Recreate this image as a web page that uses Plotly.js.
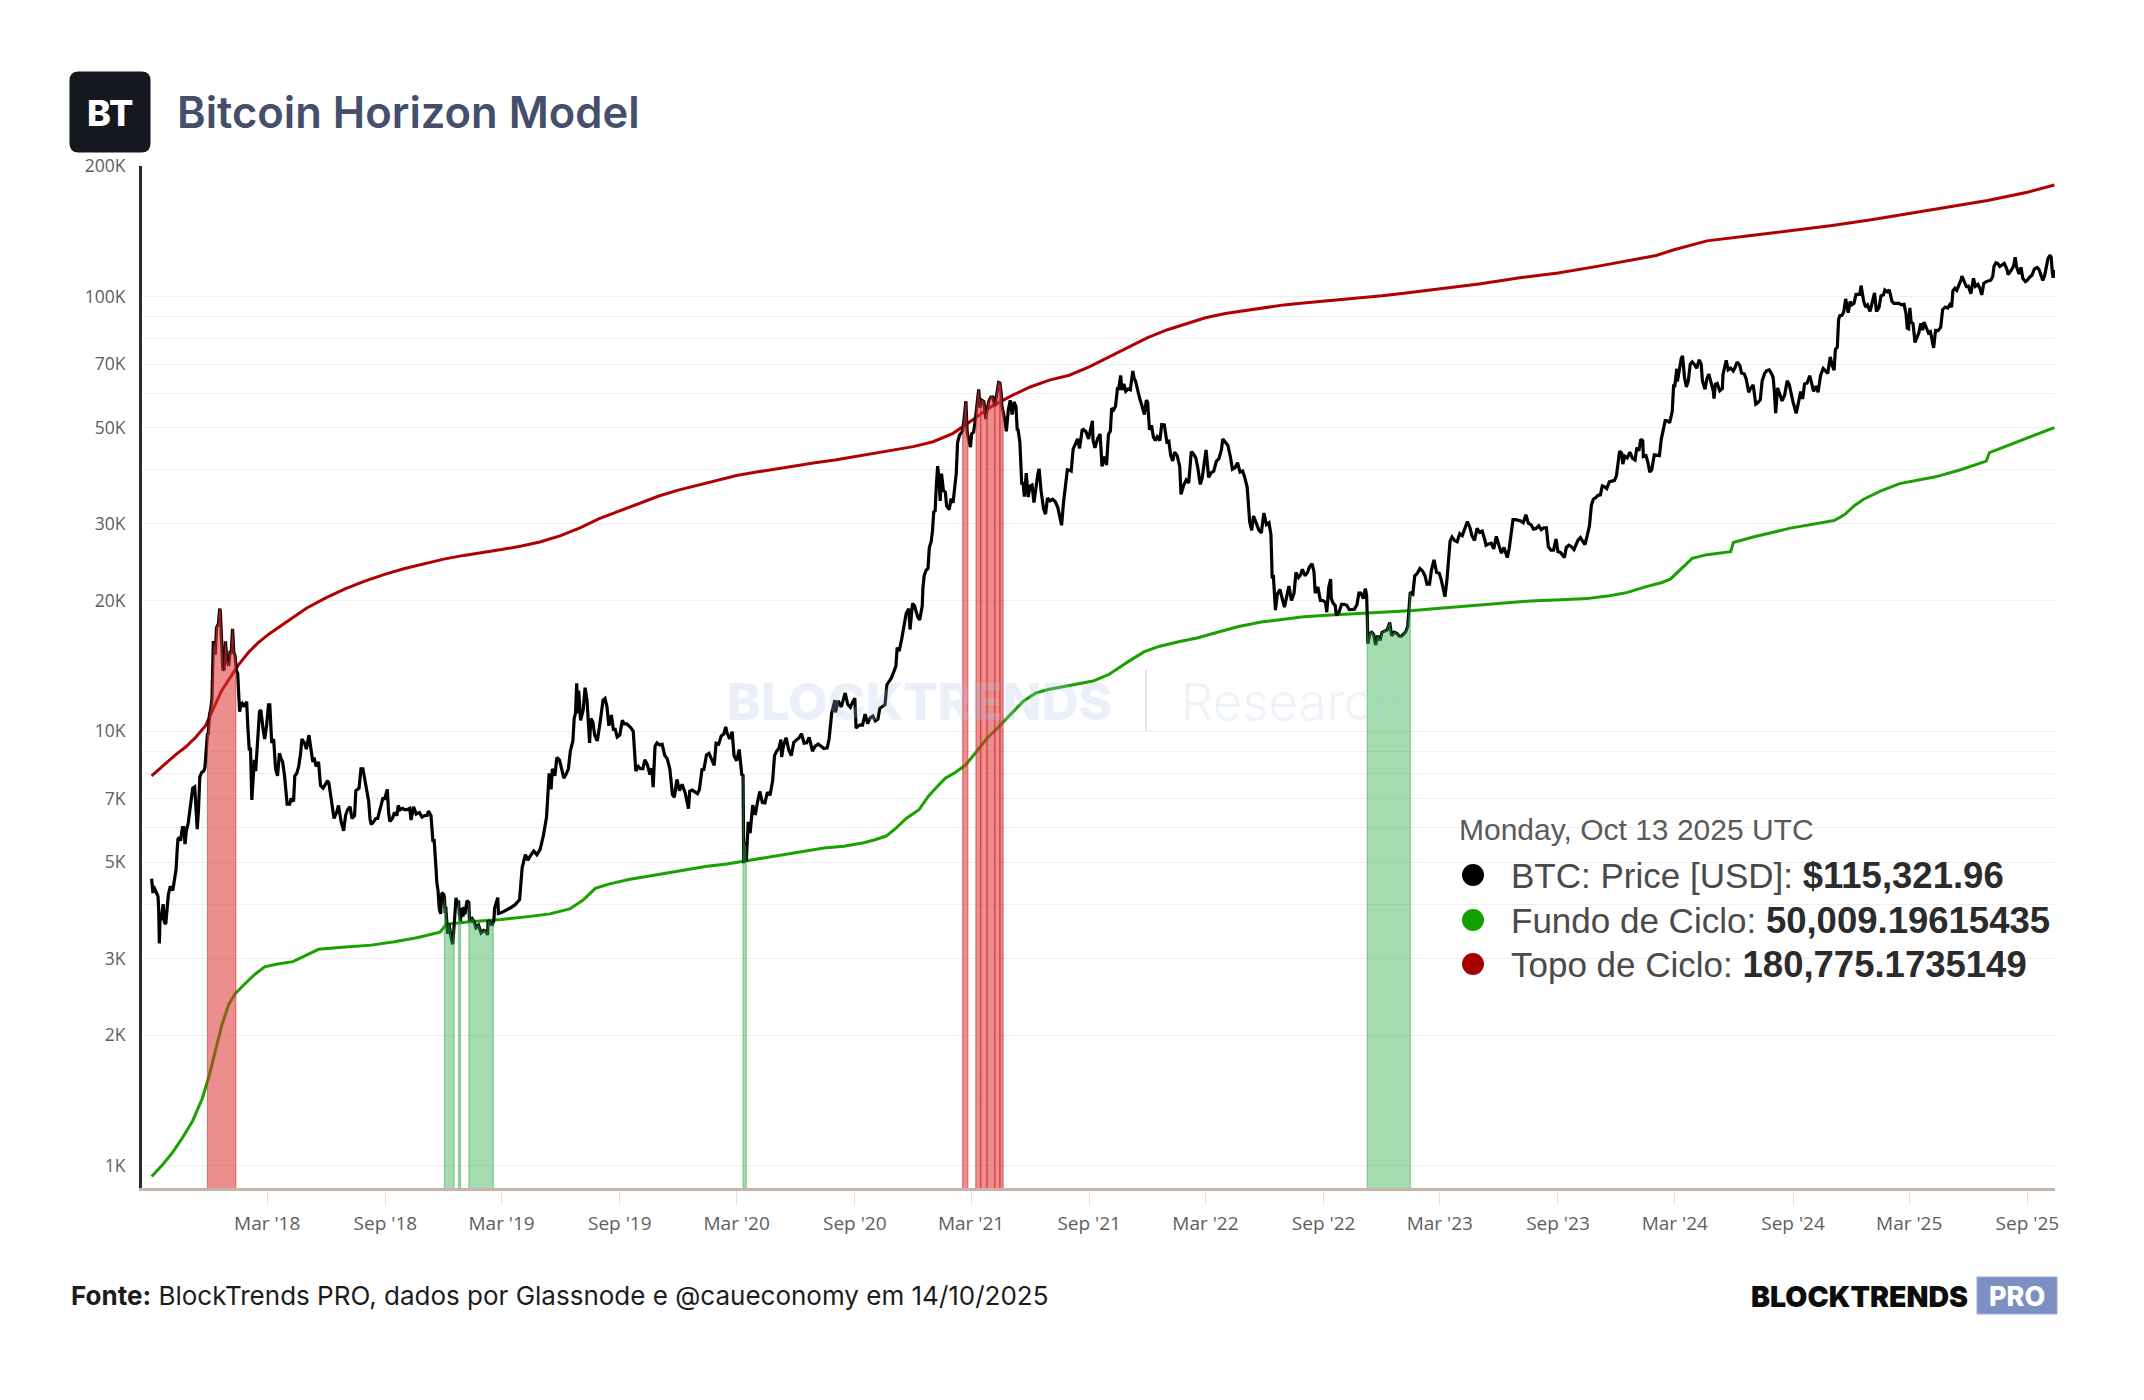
<!DOCTYPE html>
<html>
<head>
<meta charset="utf-8">
<script src="https://cdn.plot.ly/plotly-3.0.1.min.js"></script>
<style>html,body{margin:0;padding:0;background:#fff;} #chart{width:2144px;height:1400px;}</style>
</head>
<body>
<div id="chart"></div>
<script>
// ---------------- DATA ----------------
const btc2017 = [["2017-09-02",4580],["2017-09-04",4240],["2017-09-05",4400],["2017-09-08",4300],["2017-09-10",4230],["2017-09-12",4170],["2017-09-13",3880],["2017-09-14",3250],["2017-09-15",3700],["2017-09-17",3700],["2017-09-20",4000],["2017-09-22",3630],["2017-09-24",3600],["2017-09-28",4200],["2017-10-01",4400],["2017-10-05",4300],["2017-10-08",4600],["2017-10-10",4800],["2017-10-12",5400],["2017-10-13",5650],["2017-10-15",5700],["2017-10-17",5600],["2017-10-20",6000],["2017-10-22",6000],["2017-10-24",5500],["2017-10-26",5900],["2017-10-29",6150],["2017-11-01",6700],["2017-11-03",7100],["2017-11-05",7400],["2017-11-08",7450],["2017-11-10",6600],["2017-11-12",5950],["2017-11-14",6600],["2017-11-16",7850],["2017-11-19",8050],["2017-11-22",8100],["2017-11-24",8250],["2017-11-26",9300],["2017-11-28",9900],["2017-11-29",9800],["2017-12-01",10900],["2017-12-03",11250],["2017-12-05",11900],["2017-12-07",16000],["2017-12-08",16000],["2017-12-10",15000],["2017-12-12",17300],["2017-12-15",17700],["2017-12-17",19150],["2017-12-18",18900],["2017-12-20",16500],["2017-12-22",13800],["2017-12-24",13900],["2017-12-26",16100],["2017-12-28",14600],["2017-12-31",14150]];
const btc2018 = [["2018-01-02",15200],["2018-01-04",15200],["2018-01-06",17200],["2018-01-08",15200],["2018-01-10",14900],["2018-01-12",13800],["2018-01-14",13600],["2018-01-16",11200],["2018-01-17",11100],["2018-01-19",11500],["2018-01-21",11600],["2018-01-24",11400],["2018-01-28",11700],["2018-01-30",10100],["2018-02-01",9100],["2018-02-03",9100],["2018-02-05",6950],["2018-02-07",7750],["2018-02-09",8600],["2018-02-11",8100],["2018-02-14",9500],["2018-02-17",11100],["2018-02-19",11200],["2018-02-21",10400],["2018-02-23",10000],["2018-02-25",9600],["2018-02-28",10300],["2018-03-03",11500],["2018-03-05",11500],["2018-03-08",9400],["2018-03-11",9600],["2018-03-14",8200],["2018-03-17",7900],["2018-03-18",8200],["2018-03-20",8900],["2018-03-22",8700],["2018-03-25",8500],["2018-03-28",7900],["2018-03-31",6900],["2018-04-01",6800],["2018-04-05",6800],["2018-04-07",7000],["2018-04-11",6900],["2018-04-13",7900],["2018-04-16",8000],["2018-04-19",8300],["2018-04-22",8900],["2018-04-24",9600],["2018-04-28",9400],["2018-05-01",9100],["2018-05-05",9800],["2018-05-08",9200],["2018-05-11",8500],["2018-05-13",8700],["2018-05-16",8300],["2018-05-20",8500],["2018-05-23",7500],["2018-05-27",7400],["2018-05-29",7500],["2018-06-03",7700],["2018-06-05",7600],["2018-06-10",6800],["2018-06-13",6300],["2018-06-17",6500],["2018-06-20",6750],["2018-06-24",6200],["2018-06-28",5900],["2018-07-01",6400],["2018-07-04",6600],["2018-07-08",6700],["2018-07-11",6300],["2018-07-15",6400],["2018-07-17",7300],["2018-07-22",7400],["2018-07-25",8200],["2018-07-28",8200],["2018-07-31",7700],["2018-08-03",7400],["2018-08-06",6900],["2018-08-08",6300],["2018-08-10",6100],["2018-08-14",6200],["2018-08-17",6300],["2018-08-20",6300],["2018-08-24",6700],["2018-08-28",7000],["2018-08-31",7000],["2018-09-04",7350],["2018-09-06",6500],["2018-09-08",6200],["2018-09-12",6300],["2018-09-15",6500],["2018-09-19",6400],["2018-09-21",6750],["2018-09-24",6600],["2018-09-28",6650],["2018-10-01",6600],["2018-10-05",6600],["2018-10-09",6650],["2018-10-11",6250],["2018-10-15",6700],["2018-10-19",6450],["2018-10-24",6500],["2018-10-28",6350],["2018-11-01",6400],["2018-11-05",6400],["2018-11-07",6550],["2018-11-11",6400],["2018-11-14",5600],["2018-11-16",5600],["2018-11-19",4800],["2018-11-20",4500],["2018-11-22",4300],["2018-11-24",3900],["2018-11-26",3800],["2018-11-28",4250],["2018-12-01",4210],["2018-12-02",4140],["2018-12-03",3820],["2018-12-04",3950],["2018-12-05",3755],["2018-12-06",3520],["2018-12-07",3420],["2018-12-09",3610],["2018-12-11",3420],["2018-12-13",3310],["2018-12-15",3236],["2018-12-17",3545],["2018-12-18",3700],["2018-12-20",4134],["2018-12-22",4014],["2018-12-24",4078],["2018-12-25",3815],["2018-12-27",3654],["2018-12-28",3923],["2018-12-31",3743]];
const btc2019 = [["2019-01-01",3943],["2019-01-03",3790],["2019-01-06",4076],["2019-01-09",4036],["2019-01-10",3655],["2019-01-14",3706],["2019-01-17",3650],["2019-01-20",3535],["2019-01-24",3580],["2019-01-28",3437],["2019-02-01",3480],["2019-02-05",3460],["2019-02-07",3399],["2019-02-08",3666],["2019-02-12",3630],["2019-02-14",3571],["2019-02-17",3671],["2019-02-18",3912],["2019-02-23",4142],["2019-02-24",3810],["2019-03-01",3826],["2019-03-08",3870],["2019-03-15",3925],["2019-03-22",3990],["2019-03-29",4100],["2019-04-02",4858],["2019-04-07",5200],["2019-04-11",5050],["2019-04-14",5150],["2019-04-20",5300],["2019-04-25",5200],["2019-04-30",5350],["2019-05-05",5750],["2019-05-10",6350],["2019-05-12",7000],["2019-05-14",8000],["2019-05-17",7350],["2019-05-19",8200],["2019-05-23",7900],["2019-05-26",8700],["2019-05-30",8600],["2019-06-03",8100],["2019-06-06",7800],["2019-06-10",8000],["2019-06-13",8200],["2019-06-16",9000],["2019-06-20",9500],["2019-06-22",10700],["2019-06-24",11000],["2019-06-26",12900],["2019-06-27",11000],["2019-06-29",12400],["2019-07-02",10600],["2019-07-06",11200],["2019-07-09",12600],["2019-07-12",11800],["2019-07-14",10200],["2019-07-16",9400],["2019-07-18",10700],["2019-07-21",10500],["2019-07-24",9800],["2019-07-28",9500],["2019-08-01",10400],["2019-08-06",11800],["2019-08-09",11900],["2019-08-12",11400],["2019-08-15",10300],["2019-08-19",10900],["2019-08-22",10100],["2019-08-25",10100],["2019-08-28",9700],["2019-09-01",9800],["2019-09-05",10600],["2019-09-08",10400],["2019-09-12",10400],["2019-09-18",10200],["2019-09-22",10000],["2019-09-24",8600],["2019-09-26",8100],["2019-09-30",8300],["2019-10-03",8200],["2019-10-07",8200],["2019-10-10",8600],["2019-10-14",8370],["2019-10-18",7950],["2019-10-21",8220],["2019-10-23",7440],["2019-10-25",8660],["2019-10-26",9250],["2019-10-29",9400],["2019-11-02",9300],["2019-11-06",9340],["2019-11-10",8800],["2019-11-14",8640],["2019-11-18",8180],["2019-11-22",7150],["2019-11-25",7050],["2019-11-29",7750],["2019-12-03",7300],["2019-12-07",7550],["2019-12-12",7200],["2019-12-17",6640],["2019-12-19",7280],["2019-12-23",7320],["2019-12-27",7250],["2019-12-31",7190]];
const btc2020 = [["2020-01-03",7340],["2020-01-07",8160],["2020-01-10",8170],["2020-01-14",8820],["2020-01-18",8900],["2020-01-22",8660],["2020-01-26",8350],["2020-01-29",9390],["2020-02-02",9340],["2020-02-06",9750],["2020-02-10",9850],["2020-02-13",10240],["2020-02-15",9920],["2020-02-19",9600],["2020-02-23",9980],["2020-02-26",8780],["2020-03-01",8560],["2020-03-05",9080],["2020-03-08",8040],["2020-03-09",7940],["2020-03-11",7910],["2020-03-12",4970],["2020-03-13",5560],["2020-03-15",5390],["2020-03-16",5010],["2020-03-19",6190],["2020-03-22",5830],["2020-03-26",6760],["2020-03-30",6420],["2020-04-02",6810],["2020-04-06",7270],["2020-04-10",6860],["2020-04-14",6840],["2020-04-18",7240],["2020-04-22",7130],["2020-04-26",7680],["2020-04-29",8790],["2020-05-02",8980],["2020-05-06",9160],["2020-05-09",9570],["2020-05-10",8730],["2020-05-13",9270],["2020-05-17",9670],["2020-05-21",9080],["2020-05-25",8790],["2020-05-29",9430],["2020-06-02",9530],["2020-06-06",9650],["2020-06-10",9870],["2020-06-14",9390],["2020-06-18",9410],["2020-06-22",9680],["2020-06-27",9000],["2020-07-01",9230],["2020-07-06",9350],["2020-07-10",9230],["2020-07-15",9130],["2020-07-20",9160],["2020-07-23",9600],["2020-07-27",11000],["2020-08-01",11800],["2020-08-02",11050],["2020-08-06",11750],["2020-08-11",11380],["2020-08-17",12250],["2020-08-21",11540],["2020-08-25",11360],["2020-08-29",11700],["2020-09-01",11920],["2020-09-03",10170],["2020-09-05",10250],["2020-09-09",10340],["2020-09-13",10330],["2020-09-17",10950],["2020-09-21",10420],["2020-09-25",10740],["2020-09-29",10840],["2020-10-03",10570],["2020-10-07",10670],["2020-10-10",11300],["2020-10-14",11430],["2020-10-18",11500],["2020-10-21",12800],["2020-10-24",13030],["2020-10-28",13270],["2020-11-01",13740],["2020-11-04",14130],["2020-11-06",15580],["2020-11-09",15300],["2020-11-13",16300],["2020-11-17",17650],["2020-11-20",18660],["2020-11-24",19150],["2020-11-26",17150],["2020-11-30",19690],["2020-12-03",19450],["2020-12-08",18320],["2020-12-11",18040],["2020-12-15",19430],["2020-12-16",21310],["2020-12-18",22800],["2020-12-21",23480],["2020-12-24",23700],["2020-12-26",26440],["2020-12-29",27360],["2020-12-31",28950]];
const btc2021 = [["2021-01-02",32130],["2021-01-04",31970],["2021-01-06",36770],["2021-01-08",40780],["2021-01-10",38350],["2021-01-12",33920],["2021-01-14",39190],["2021-01-17",35830],["2021-01-20",35510],["2021-01-22",33000],["2021-01-26",32370],["2021-01-29",34320],["2021-02-01",33540],["2021-02-04",36900],["2021-02-06",39270],["2021-02-08",46200],["2021-02-11",48000],["2021-02-14",48700],["2021-02-16",49200],["2021-02-18",52150],["2021-02-20",55900],["2021-02-21",57500],["2021-02-23",48800],["2021-02-26",46300],["2021-02-28",45100],["2021-03-02",48400],["2021-03-05",48800],["2021-03-07",51200],["2021-03-09",54900],["2021-03-11",57300],["2021-03-13",61200],["2021-03-15",55600],["2021-03-18",57800],["2021-03-21",57400],["2021-03-24",52300],["2021-03-26",55000],["2021-03-29",57700],["2021-04-01",58800],["2021-04-04",58800],["2021-04-07",56000],["2021-04-10",59900],["2021-04-13",63500],["2021-04-15",63300],["2021-04-17",60000],["2021-04-18",56200],["2021-04-21",53800],["2021-04-23",51700],["2021-04-25",49000],["2021-04-28",54800],["2021-05-01",57800],["2021-05-04",53600],["2021-05-07",57300],["2021-05-10",55800],["2021-05-12",49200],["2021-05-13",49700],["2021-05-16",46400],["2021-05-19",37000],["2021-05-21",37400],["2021-05-23",34700],["2021-05-26",39300],["2021-05-29",34600],["2021-06-01",36700],["2021-06-04",36900],["2021-06-07",33600],["2021-06-10",36700],["2021-06-13",39100],["2021-06-15",40200],["2021-06-18",35800],["2021-06-22",32500],["2021-06-25",31600],["2021-06-28",34400],["2021-07-02",33900],["2021-07-06",34200],["2021-07-10",33800],["2021-07-14",32800],["2021-07-17",31500],["2021-07-20",29800],["2021-07-23",33600],["2021-07-26",37300],["2021-07-29",40000],["2021-08-01",39900],["2021-08-04",39700],["2021-08-07",44600],["2021-08-10",45600],["2021-08-14",47100],["2021-08-17",44800],["2021-08-21",49300],["2021-08-23",49500],["2021-08-27",48900],["2021-08-31",47100],["2021-09-03",50000],["2021-09-06",51800],["2021-09-07",46800],["2021-09-10",44900],["2021-09-14",47100],["2021-09-18",48300],["2021-09-21",40700],["2021-09-24",42900],["2021-09-28",41000],["2021-10-01",48200],["2021-10-04",49100],["2021-10-06",55400],["2021-10-09",54900],["2021-10-12",56000],["2021-10-15",61500],["2021-10-17",61500],["2021-10-20",65900],["2021-10-22",61000],["2021-10-25",63000],["2021-10-28",60600],["2021-11-01",61400],["2021-11-04",61100],["2021-11-08",67500],["2021-11-10",64900],["2021-11-12",64100],["2021-11-16",60100],["2021-11-19",58100],["2021-11-22",56300],["2021-11-26",53600],["2021-11-29",57800],["2021-12-01",57200],["2021-12-04",49400],["2021-12-07",50600],["2021-12-10",47600],["2021-12-13",46700],["2021-12-16",47600],["2021-12-20",46700],["2021-12-23",50800],["2021-12-27",50700],["2021-12-31",46300]];
const btc2022 = [["2022-01-03",46500],["2022-01-06",43100],["2022-01-09",41900],["2022-01-12",43900],["2022-01-16",43100],["2022-01-20",40700],["2022-01-22",35100],["2022-01-26",36800],["2022-01-30",37900],["2022-02-03",37300],["2022-02-07",44000],["2022-02-10",43600],["2022-02-14",42600],["2022-02-17",40500],["2022-02-21",37000],["2022-02-24",38300],["2022-02-28",43200],["2022-03-02",44400],["2022-03-06",38400],["2022-03-10",39400],["2022-03-14",39700],["2022-03-18",41800],["2022-03-22",42400],["2022-03-26",44500],["2022-03-28",47100],["2022-04-01",46300],["2022-04-05",45500],["2022-04-09",42800],["2022-04-12",40100],["2022-04-16",40400],["2022-04-20",41500],["2022-04-24",39500],["2022-04-28",39700],["2022-05-01",38500],["2022-05-05",36500],["2022-05-09",30300],["2022-05-12",29000],["2022-05-15",31300],["2022-05-19",30300],["2022-05-23",29100],["2022-05-27",28600],["2022-05-31",31800],["2022-06-04",29900],["2022-06-08",30200],["2022-06-11",28400],["2022-06-13",22500],["2022-06-15",22600],["2022-06-18",19000],["2022-06-21",20700],["2022-06-25",21200],["2022-06-29",20100],["2022-07-02",19300],["2022-07-06",20550],["2022-07-09",21600],["2022-07-13",20000],["2022-07-17",20800],["2022-07-20",23200],["2022-07-24",22600],["2022-07-27",22900],["2022-07-30",23600],["2022-08-03",22800],["2022-08-07",23200],["2022-08-10",23900],["2022-08-14",24300],["2022-08-17",23300],["2022-08-19",20800],["2022-08-23",21500],["2022-08-27",20000],["2022-08-31",20000],["2022-09-04",19800],["2022-09-06",18800],["2022-09-09",21400],["2022-09-12",22400],["2022-09-13",20200],["2022-09-16",19700],["2022-09-19",19500],["2022-09-21",18500],["2022-09-25",18800],["2022-09-29",19600],["2022-10-03",19600],["2022-10-07",19500],["2022-10-11",19050],["2022-10-15",19070],["2022-10-19",19100],["2022-10-23",19570],["2022-10-26",20800],["2022-10-29",20800],["2022-11-02",20200],["2022-11-05",21300],["2022-11-07",20600],["2022-11-08",18500],["2022-11-09",15900],["2022-11-12",16800],["2022-11-15",16900],["2022-11-18",16700],["2022-11-21",15800],["2022-11-24",16600],["2022-11-28",16200],["2022-12-01",16900],["2022-12-05",16970],["2022-12-09",17100],["2022-12-13",17800],["2022-12-16",16600],["2022-12-20",16900],["2022-12-24",16800],["2022-12-28",16550],["2022-12-31",16550]];
const btc2023 = [["2023-01-03",16700],["2023-01-07",16950],["2023-01-10",17450],["2023-01-12",18850],["2023-01-13",19900],["2023-01-14",20900],["2023-01-18",20700],["2023-01-21",22800],["2023-01-25",23100],["2023-01-29",23700],["2023-02-02",23400],["2023-02-06",22800],["2023-02-09",21800],["2023-02-13",21800],["2023-02-16",23500],["2023-02-20",24800],["2023-02-24",23200],["2023-02-28",23100],["2023-03-03",22400],["2023-03-09",20400],["2023-03-12",22200],["2023-03-14",24700],["2023-03-17",27400],["2023-03-20",28000],["2023-03-24",27500],["2023-03-28",27300],["2023-04-01",28500],["2023-04-05",28200],["2023-04-10",29700],["2023-04-13",30400],["2023-04-17",29400],["2023-04-20",28200],["2023-04-24",27500],["2023-04-28",29300],["2023-05-02",28700],["2023-05-06",28900],["2023-05-10",27600],["2023-05-12",26800],["2023-05-16",27000],["2023-05-20",27100],["2023-05-24",26300],["2023-05-28",28100],["2023-06-01",26800],["2023-06-05",25700],["2023-06-09",26500],["2023-06-14",25100],["2023-06-17",26300],["2023-06-20",28300],["2023-06-23",30700],["2023-06-27",30700],["2023-07-01",30600],["2023-07-05",30500],["2023-07-09",30200],["2023-07-13",31500],["2023-07-17",30100],["2023-07-21",29900],["2023-07-25",29200],["2023-07-29",29300],["2023-08-02",29700],["2023-08-06",29100],["2023-08-10",29400],["2023-08-14",29400],["2023-08-17",26600],["2023-08-21",26100],["2023-08-25",26100],["2023-08-29",27700],["2023-09-01",25900],["2023-09-05",25800],["2023-09-11",25100],["2023-09-14",26500],["2023-09-18",26800],["2023-09-22",26600],["2023-09-26",26200],["2023-09-30",27000],["2023-10-02",27500],["2023-10-06",27900],["2023-10-10",27400],["2023-10-13",26900],["2023-10-17",28400],["2023-10-20",29700],["2023-10-23",33100],["2023-10-26",34200],["2023-10-30",34500],["2023-11-02",34900],["2023-11-06",35000],["2023-11-09",36700],["2023-11-13",36500],["2023-11-16",36200],["2023-11-20",37500],["2023-11-24",37700],["2023-11-28",37800],["2023-12-01",38700],["2023-12-04",41900],["2023-12-06",44100],["2023-12-09",43700],["2023-12-11",41200],["2023-12-14",43000],["2023-12-18",42600],["2023-12-22",43900],["2023-12-26",42500],["2023-12-30",42100]];
const btc2024 = [["2024-01-02",45000],["2024-01-05",44200],["2024-01-08",47000],["2024-01-11",46600],["2024-01-12",42900],["2024-01-16",43100],["2024-01-19",41600],["2024-01-22",39500],["2024-01-25",40000],["2024-01-29",43300],["2024-02-02",43200],["2024-02-06",43100],["2024-02-09",47100],["2024-02-12",49900],["2024-02-15",51900],["2024-02-19",51800],["2024-02-22",51300],["2024-02-26",54500],["2024-02-28",62400],["2024-03-01",62400],["2024-03-04",68300],["2024-03-05",63800],["2024-03-08",68300],["2024-03-11",72100],["2024-03-13",73100],["2024-03-16",65300],["2024-03-19",62000],["2024-03-22",64000],["2024-03-25",70000],["2024-03-28",70800],["2024-04-01",69700],["2024-04-04",68500],["2024-04-08",71600],["2024-04-11",70000],["2024-04-13",64000],["2024-04-17",61300],["2024-04-20",64900],["2024-04-23",66400],["2024-04-26",63800],["2024-04-30",60600],["2024-05-01",58300],["2024-05-03",62900],["2024-05-06",63200],["2024-05-10",60800],["2024-05-14",61500],["2024-05-15",66300],["2024-05-20",71400],["2024-05-23",67900],["2024-05-27",68500],["2024-05-31",67500],["2024-06-03",68800],["2024-06-06",70800],["2024-06-10",69600],["2024-06-13",66700],["2024-06-17",66500],["2024-06-20",64800],["2024-06-24",60300],["2024-06-27",61600],["2024-07-01",62700],["2024-07-04",57000],["2024-07-05",56600],["2024-07-08",57000],["2024-07-12",57900],["2024-07-15",64100],["2024-07-19",66700],["2024-07-22",67600],["2024-07-26",67900],["2024-07-29",66800],["2024-08-01",65300],["2024-08-03",60600],["2024-08-05",54000],["2024-08-08",61700],["2024-08-12",59000],["2024-08-15",57600],["2024-08-19",59500],["2024-08-23",64100],["2024-08-26",62900],["2024-08-29",59400],["2024-09-01",57300],["2024-09-06",53900],["2024-09-09",57000],["2024-09-13",60500],["2024-09-16",58200],["2024-09-19",63000],["2024-09-23",63300],["2024-09-27",65800],["2024-09-30",63300],["2024-10-03",60600],["2024-10-07",62300],["2024-10-10",60300],["2024-10-14",66000],["2024-10-18",68400],["2024-10-22",67400],["2024-10-25",66600],["2024-10-29",72700],["2024-11-01",69500],["2024-11-04",67800],["2024-11-06",75600],["2024-11-09",76600],["2024-11-11",88700],["2024-11-13",90500],["2024-11-16",90600],["2024-11-19",92300],["2024-11-22",98900],["2024-11-26",91900],["2024-11-29",97500],["2024-12-02",95900],["2024-12-05",96600],["2024-12-08",101200],["2024-12-11",101100],["2024-12-14",101400],["2024-12-16",106100],["2024-12-18",100200],["2024-12-20",97800],["2024-12-23",94700],["2024-12-26",95800],["2024-12-30",92600]];
const btc2025 = [["2025-01-02",96900],["2025-01-06",102100],["2025-01-09",92500],["2025-01-13",94500],["2025-01-16",100500],["2025-01-20",101100],["2025-01-22",103700],["2025-01-26",102600],["2025-01-29",103700],["2025-02-02",97700],["2025-02-05",96600],["2025-02-09",96500],["2025-02-13",96600],["2025-02-17",95800],["2025-02-21",96100],["2025-02-24",91500],["2025-02-26",84700],["2025-02-28",84400],["2025-03-02",94300],["2025-03-04",87300],["2025-03-07",86700],["2025-03-10",78500],["2025-03-13",80900],["2025-03-16",82600],["2025-03-19",86900],["2025-03-22",83800],["2025-03-24",87500],["2025-03-28",84400],["2025-03-31",82500],["2025-04-03",83100],["2025-04-06",78300],["2025-04-08",76300],["2025-04-11",83700],["2025-04-15",83600],["2025-04-19",85100],["2025-04-22",93400],["2025-04-26",94700],["2025-04-30",94200],["2025-05-03",95900],["2025-05-06",94700],["2025-05-08",103200],["2025-05-11",104600],["2025-05-14",103500],["2025-05-18",106500],["2025-05-21",109700],["2025-05-22",111600],["2025-05-25",109000],["2025-05-29",105600],["2025-06-01",105800],["2025-06-05",101600],["2025-06-09",110300],["2025-06-12",105700],["2025-06-16",106800],["2025-06-19",104600],["2025-06-22",101000],["2025-06-25",107300],["2025-06-29",108400],["2025-07-02",108900],["2025-07-06",109200],["2025-07-09",111300],["2025-07-11",117500],["2025-07-14",119800],["2025-07-17",119300],["2025-07-20",117400],["2025-07-24",118300],["2025-07-27",119400],["2025-07-31",115800],["2025-08-02",112500],["2025-08-05",114100],["2025-08-09",116500],["2025-08-11",118700],["2025-08-13",123300],["2025-08-15",117400],["2025-08-19",112900],["2025-08-22",116900],["2025-08-25",110100],["2025-08-29",108400],["2025-09-01",109200],["2025-09-04",110700],["2025-09-08",112100],["2025-09-12",116000],["2025-09-16",116800],["2025-09-19",115700],["2025-09-22",112700],["2025-09-25",109000],["2025-09-28",112200],["2025-10-01",118600],["2025-10-03",122300],["2025-10-06",124700],["2025-10-08",123300],["2025-10-10",113200],["2025-10-11",110600],["2025-10-13",115321.96]];

// Topo de Ciclo (red)
const topoCiclo = [["2017-09-02",7900],["2017-09-20",8350],["2017-10-10",8850],["2017-10-25",9200],["2017-11-10",9700],["2017-11-25",10300],["2017-12-10",11500],["2017-12-20",12400],["2018-01-01",13200],["2018-01-15",14200],["2018-01-31",15200],["2018-02-15",16000],["2018-03-05",16800],["2018-04-01",17900],["2018-05-01",19200],["2018-06-01",20300],["2018-07-01",21300],["2018-08-01",22200],["2018-09-01",23000],["2018-10-01",23700],["2018-11-01",24300],["2018-12-01",24900],["2019-01-01",25400],["2019-02-01",25800],["2019-03-01",26200],["2019-04-01",26700],["2019-05-01",27300],["2019-06-01",28200],["2019-07-01",29400],["2019-08-01",30900],["2019-09-01",32200],["2019-10-01",33500],["2019-11-01",34800],["2019-12-01",35900],["2020-01-01",36900],["2020-02-01",37800],["2020-03-01",38800],["2020-04-01",39500],["2020-05-01",40200],["2020-06-01",40900],["2020-07-01",41500],["2020-08-01",42100],["2020-09-01",42900],["2020-10-01",43700],["2020-11-01",44500],["2020-12-01",45200],["2021-01-01",46400],["2021-02-01",48500],["2021-03-01",51800],["2021-04-01",55800],["2021-05-01",59000],["2021-06-01",62000],["2021-07-01",64300],["2021-08-01",66000],["2021-09-01",69000],["2021-10-01",72500],["2021-11-01",76500],["2021-12-01",80500],["2022-01-01",84000],["2022-02-01",87000],["2022-03-01",89500],["2022-04-01",91500],["2022-05-01",93000],["2022-06-01",94500],["2022-07-01",95800],["2022-08-01",96800],["2022-09-01",97700],["2022-10-01",98600],["2022-11-01",99500],["2022-12-01",100500],["2023-01-01",101800],["2023-03-01",104300],["2023-05-01",107000],["2023-07-01",110500],["2023-09-01",113500],["2023-11-01",117500],["2024-01-01",122000],["2024-02-01",124500],["2024-03-01",128500],["2024-04-01",132500],["2024-04-20",134500],["2024-07-01",138500],["2024-09-01",142000],["2024-11-01",146000],["2025-01-01",150500],["2025-03-01",155500],["2025-05-01",160500],["2025-07-01",166500],["2025-09-01",174000],["2025-10-13",180775.17]];

// Fundo de Ciclo (green)
const fundoCiclo = [["2017-09-02",945],["2017-09-20",1010],["2017-10-05",1075],["2017-10-20",1160],["2017-11-05",1270],["2017-11-20",1430],["2017-12-01",1620],["2017-12-10",1820],["2017-12-20",2100],["2017-12-31",2350],["2018-01-10",2490],["2018-01-25",2620],["2018-02-10",2760],["2018-02-25",2870],["2018-03-15",2910],["2018-04-10",2950],["2018-05-01",3060],["2018-05-20",3150],["2018-07-01",3190],["2018-08-10",3220],["2018-09-15",3280],["2018-10-20",3350],["2018-11-25",3450],["2018-12-05",3600],["2019-01-15",3650],["2019-03-01",3690],["2019-04-15",3750],["2019-05-15",3800],["2019-06-15",3900],["2019-07-05",4080],["2019-07-25",4350],["2019-08-15",4450],["2019-09-15",4560],["2019-10-15",4640],["2019-11-15",4730],["2019-12-15",4820],["2020-01-15",4890],["2020-02-15",4950],["2020-03-15",5030],["2020-04-15",5120],["2020-05-15",5220],["2020-06-15",5300],["2020-07-15",5390],["2020-08-15",5440],["2020-09-15",5540],["2020-10-01",5620],["2020-10-20",5740],["2020-11-05",6000],["2020-11-20",6300],["2020-12-10",6600],["2020-12-25",7100],["2021-01-07",7450],["2021-01-20",7800],["2021-02-05",8050],["2021-02-20",8350],["2021-03-10",9000],["2021-03-25",9600],["2021-04-12",10200],["2021-05-01",10900],["2021-05-22",11750],["2021-06-10",12250],["2021-07-01",12500],["2021-07-20",12650],["2021-08-10",12800],["2021-09-07",13050],["2021-10-01",13500],["2021-10-17",14000],["2021-11-05",14600],["2021-11-26",15250],["2021-12-20",15700],["2022-01-20",16100],["2022-02-16",16400],["2022-03-20",16900],["2022-04-20",17400],["2022-05-27",17850],["2022-07-01",18150],["2022-08-01",18350],["2022-09-06",18500],["2022-10-15",18650],["2022-11-15",18750],["2022-12-15",18850],["2023-01-19",18960],["2023-03-01",19200],["2023-05-01",19500],["2023-07-20",19950],["2023-09-15",20100],["2023-10-16",20200],["2023-11-20",20500],["2023-12-17",20850],["2024-01-15",21500],["2024-02-10",22000],["2024-02-23",22400],["2024-03-10",23600],["2024-03-28",25000],["2024-04-20",25500],["2024-05-27",25900],["2024-05-31",27200],["2024-07-01",28000],["2024-08-28",29350],["2024-10-01",29900],["2024-11-04",30560],["2024-11-20",31500],["2024-12-05",33000],["2024-12-20",34200],["2025-01-15",35700],["2025-02-14",37150],["2025-03-15",37800],["2025-04-11",38520],["2025-05-20",40000],["2025-06-29",41870],["2025-07-04",43800],["2025-08-01",45400],["2025-09-01",47300],["2025-10-13",50009.2]];

// Periods where price is above the top (red) or below the bottom (green)
const redBands = [["2017-11-28","2018-01-11"],["2021-02-16","2021-02-24"],["2021-03-08","2021-03-16"],["2021-03-16","2021-03-26"],["2021-03-26","2021-04-07"],["2021-04-07","2021-04-15"],["2021-04-15","2021-04-20"]];
const greenBands = [["2018-12-02","2018-12-17"],["2018-12-24","2018-12-27"],["2019-01-09","2019-02-16"],["2020-03-11","2020-03-16"],["2022-11-08","2023-01-14"]];

const xTickDates = ["2018-03-01","2018-09-01","2019-03-01","2019-09-01","2020-03-01","2020-09-01","2021-03-01","2021-09-01","2022-03-01","2022-09-01","2023-03-01","2023-09-01","2024-03-01","2024-09-01","2025-03-01","2025-09-01"];
const xTickText = ["Mar '18","Sep '18","Mar '19","Sep '19","Mar '20","Sep '20","Mar '21","Sep '21","Mar '22","Sep '22","Mar '23","Sep '23","Mar '24","Sep '24","Mar '25","Sep '25"];
const yTickVals = [1000,2000,3000,4000,5000,6000,7000,8000,9000,10000,20000,30000,40000,50000,60000,70000,80000,90000,100000,200000];
const yTickText = ["1K","2K","3K","","5K","","7K","","","10K","20K","30K","","50K","","70K","","","100K","200K"];

const legendDate = "Monday, Oct 13 2025 UTC";
const legendLabels = ["BTC: Price [USD]: ", "Fundo de Ciclo: ", "Topo de Ciclo: "];
const legendValues = ["$115,321.96", "50,009.19615435", "180,775.1735149"];

// ---------------- BUILD ----------------
const L = 142, R = 2055, T = 166, B = 1188;
const px = x => (x - L) / (R - L);
const py = y => (B - y) / (B - T);

const price = [].concat(btc2017, btc2018, btc2019, btc2020, btc2021, btc2022, btc2023, btc2024, btc2025);
const priceX = price.map(d => d[0]);
const priceY = price.map(d => d[1]);

const ms = d => Date.parse(d + "T00:00:00Z");
const pMs = priceX.map(ms);
function priceAt(t) {
  if (t <= pMs[0]) return priceY[0];
  for (let i = 0; i < pMs.length - 1; i++) {
    if (t >= pMs[i] && t <= pMs[i + 1]) {
      const f = (t - pMs[i]) / (pMs[i + 1] - pMs[i]);
      return Math.exp(Math.log(priceY[i]) * (1 - f) + Math.log(priceY[i + 1]) * f);
    }
  }
  return priceY[priceY.length - 1];
}
const FLOOR = 100;
function band(s, e, fill, edge) {
  const a = ms(s), b = ms(e);
  const xs = [a, a], ys = [FLOOR, priceAt(a)];
  pMs.forEach((t, i) => { if (t > a && t < b) { xs.push(t); ys.push(priceY[i]); } });
  xs.push(b, b, a); ys.push(priceAt(b), FLOOR, FLOOR);
  return { type: "scatter", mode: "lines", x: xs, y: ys, fill: "toself", fillcolor: fill,
           line: { color: edge, width: 1.2 }, hoverinfo: "skip", showlegend: false };
}

const traces = [
  { type: "scatter", mode: "lines", name: "Topo de Ciclo", x: topoCiclo.map(d => d[0]), y: topoCiclo.map(d => d[1]),
    line: { color: "#b00000", width: 3 } },
  { type: "scatter", mode: "lines", name: "Fundo de Ciclo", x: fundoCiclo.map(d => d[0]), y: fundoCiclo.map(d => d[1]),
    line: { color: "#1aa000", width: 3 } },
  { type: "scatter", mode: "lines", name: "BTC: Price [USD]", x: priceX, y: priceY,
    line: { color: "#000000", width: 3.2 } }
];
redBands.forEach(b => traces.push(band(b[0], b[1], "rgba(222,50,50,0.55)", "rgba(205,40,40,0.55)")));
greenBands.forEach(b => traces.push(band(b[0], b[1], "rgba(40,170,70,0.42)", "rgba(40,160,60,0.45)")));

function roundRect(h, r) {
  return `M ${-h + r},${-h} L ${h - r},${-h} Q ${h},${-h} ${h},${-h + r} L ${h},${h - r} Q ${h},${h} ${h - r},${h} ` +
         `L ${-h + r},${h} Q ${-h},${h} ${-h},${h - r} L ${-h},${-h + r} Q ${-h},${-h} ${-h + r},${-h} Z`;
}

const shapes = [
  // legend white box (hides grid lines)
  { type: "rect", xref: "paper", yref: "paper", x0: px(1444), x1: 1.0, y0: py(1002), y1: py(786),
    fillcolor: "#ffffff", line: { width: 0 }, layer: "between" },
  // watermark divider
  { type: "line", xref: "paper", yref: "paper", x0: px(1146), x1: px(1146), y0: py(731), y1: py(670),
    line: { color: "rgba(200,210,228,0.55)", width: 2 }, layer: "between" },
  // logo
  { type: "path", xref: "paper", yref: "paper", xsizemode: "pixel", ysizemode: "pixel",
    xanchor: px(110), yanchor: py(112), path: roundRect(40.5, 9), fillcolor: "#15181f", line: { width: 0 } },
  // PRO box
  { type: "rect", xref: "paper", yref: "paper", x0: px(1977), x1: px(2057), y0: py(1314), y1: py(1277),
    fillcolor: "#7d90c4", line: { color: "#9aaad4", width: 1 } }
];
const dotColors = ["#000000", "#16a000", "#a80000"];
const rowY = [875, 920, 964];
rowY.forEach((y, i) => shapes.push({ type: "circle", xref: "paper", yref: "paper", xsizemode: "pixel", ysizemode: "pixel",
  xanchor: px(1473), yanchor: py(y), x0: -11, x1: 11, y0: -11, y1: 11, fillcolor: dotColors[i], line: { width: 0 } }));

const annotations = [
  { text: "BT", xref: "paper", yref: "paper", x: px(110), y: py(113), xanchor: "center", yanchor: "middle", showarrow: false,
    font: { family: "Inter", size: 36, color: "#ffffff", weight: 800 } },
  { text: "BLOCKTRENDS", xref: "paper", yref: "paper", x: px(919), y: py(701), xanchor: "center", yanchor: "middle", showarrow: false,
    font: { family: "Inter", size: 51, color: "rgba(175,195,230,0.26)", weight: 800 } },
  { text: "Research", xref: "paper", yref: "paper", x: px(1292), y: py(701), xanchor: "center", yanchor: "middle", showarrow: false,
    font: { family: "Inter", size: 51, color: "rgba(185,200,230,0.24)", weight: 300 } },
  { text: legendDate, xref: "paper", yref: "paper", x: px(1457), y: py(829), xanchor: "left", yanchor: "middle", showarrow: false,
    font: { family: "Liberation Sans", size: 30, color: "#5a5a5a" } },
  { text: "<b>Fonte:</b> BlockTrends PRO, dados por Glassnode e @caueconomy em 14/10/2025", xref: "paper", yref: "paper",
    x: px(69), y: py(1295), xanchor: "left", yanchor: "middle", showarrow: false,
    font: { family: "Inter", size: 26, color: "#1c1c1c" } },
  { text: "BLOCKTRENDS", xref: "paper", yref: "paper", x: px(1749), y: py(1296), xanchor: "left", yanchor: "middle", showarrow: false,
    font: { family: "Inter", size: 28.5, color: "#0d0d0d", weight: 900 } },
  { text: "PRO", xref: "paper", yref: "paper", x: px(2017), y: py(1296), xanchor: "center", yanchor: "middle", showarrow: false,
    font: { family: "Inter", size: 27, color: "#ffffff", weight: 800 } }
];
rowY.forEach((y, i) => annotations.push({
  text: legendLabels[i] + '<span style="font-weight:bold;color:#2b2b2b;font-size:36.5px">' + legendValues[i] + '</span>',
  xref: "paper", yref: "paper", x: px(1509), y: py(y), xanchor: "left", yanchor: "middle", showarrow: false,
  font: { family: "Liberation Sans", size: 35, color: "#4a4a4a" } }));

const layout = {
  width: 2144, height: 1400,
  margin: { l: L, r: 2144 - R, t: T, b: 1400 - B, pad: 0 },
  paper_bgcolor: "#ffffff", plot_bgcolor: "#ffffff",
  showlegend: false,
  title: { text: "Bitcoin Horizon Model", xref: "container", yref: "container", x: 177 / 2144, y: 1 - 113 / 1400,
           xanchor: "left", yanchor: "middle", font: { family: "Inter", size: 43.5, color: "#454e6b", weight: 600 } },
  xaxis: {
    type: "date", range: ["2017-08-18", "2025-10-14"],
    tickmode: "array", tickvals: xTickDates, ticktext: xTickText,
    showgrid: false, zeroline: false,
    ticks: "outside", ticklen: 14, tickwidth: 1, tickcolor: "#e2e2e2", ticklabelstandoff: 2,
    showline: true, linecolor: "#c7b3a9", linewidth: 3,
    tickfont: { family: "Open Sans", size: 19, color: "#5e5e5e" }
  },
  yaxis: {
    type: "log", range: [Math.log10(889), Math.log10(200000)],
    tickmode: "array", tickvals: yTickVals, ticktext: yTickText,
    showgrid: true, gridcolor: "#efefef", gridwidth: 1, zeroline: false,
    ticks: "", ticklabelstandoff: 10,
    showline: true, linecolor: "#2a2a2a", linewidth: 3,
    tickfont: { family: "Open Sans", size: 17.5, color: "#5e5e5e" }
  },
  shapes: shapes,
  annotations: annotations
};

Plotly.newPlot("chart", traces, layout, { displayModeBar: false, staticPlot: true });
</script>
</body>
</html>
